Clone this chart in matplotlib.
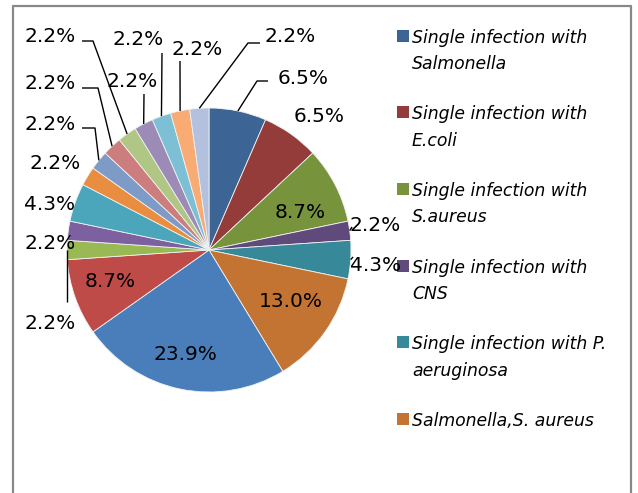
import matplotlib
matplotlib.use("Agg")
import matplotlib.pyplot as plt
from matplotlib.patches import Rectangle
import numpy as np

# ---------------- data ----------------
counts = [3, 3, 4, 1, 2, 6, 11, 4, 1, 1, 2, 1, 1, 1, 1, 1, 1, 1, 1]
slice_colors = ["#3C6494", "#943C3A", "#77933C", "#604A7B", "#378898", "#C47432",
                "#4A7EBB", "#BE4B48", "#98B954", "#7D60A0", "#4BA5BB", "#E98D40",
                "#7E9BC8", "#CB7E7D", "#AFC684", "#9C8AB7", "#7DBFD4", "#F9AB74",
                "#B3C1DE"]
legend_names = ["Single infection with\nSalmonella",
                "Single infection with\nE.coli",
                "Single infection with\nS.aureus",
                "Single infection with\nCNS",
                "Single infection with P.\naeruginosa",
                "Salmonella,S. aureus"]

# ---------------- layout (pixels, top-left origin) ----------------
W, H = 638, 493
CX, CY, R = 209, 250, 142
label_xy = [(303, 77), (319, 115), (300, 211), (375, 224), (376, 264), (291, 300),
            (185, 353), (110, 280), (50, 322), (50, 242), (50, 203), (55, 162),
            (50, 123), (50, 82), (50, 35), (132, 80), (138, 38), (197, 48),
            (290, 35)]
leaders = {0: [(257, 81), (268, 81)],
           3: [(352, 227)],
           4: [(353, 257)],
           8: [(67, 302)],
           12: [(95, 128), (82, 128)],
           13: [(98, 88), (82, 88)],
           14: [(93, 41), (82, 41)],
           15: [(144, 94)],
           16: [(162, 53)],
           17: [(180, 61)],
           18: [(248, 43), (260, 43)]}


def Y(y):
    return H - y


fig = plt.figure(figsize=(W / 100, H / 100), dpi=100)
ax = fig.add_axes([0, 0, 1, 1])
wedges, _ = ax.pie(counts, colors=slice_colors, startangle=90, counterclock=False,
                   center=(CX, Y(CY)), radius=R,
                   wedgeprops=dict(edgecolor="#F2F2F2", linewidth=0.6))
ax.set_xlim(0, W)
ax.set_ylim(0, H)
ax.set_aspect("equal")
ax.axis("off")

total = sum(counts)
for i, (c, w) in enumerate(zip(counts, wedges)):
    txt = f"{c / total * 100:.1f}%"
    lx, ly = label_xy[i]
    ax.text(lx, Y(ly + 7), txt, ha="center", va="baseline", fontsize=14.5,
            color="black", family="DejaVu Sans")
    if i in leaders:
        mid = np.deg2rad((w.theta1 + w.theta2) / 2)
        sx = CX + R * np.cos(mid)
        sy = Y(CY) + R * np.sin(mid)
        xs = [sx] + [p[0] for p in leaders[i]]
        ys = [sy] + [Y(p[1]) for p in leaders[i]]
        ax.plot(xs, ys, color="black", lw=1.0, solid_capstyle="butt")

# legend (manual, handle aligned with first line)
for i, name in enumerate(legend_names):
    base = 42.6 + 76.7 * i
    ax.add_patch(Rectangle((397, Y(base - 1)), 12, 12, facecolor=wedges[i].get_facecolor(),
                           edgecolor="none"))
    for j, line in enumerate(name.split("\n")):
        ax.text(412, Y(base + 26.5 * j), line, ha="left", va="baseline",
                fontsize=12.4, style="italic", color="black", family="DejaVu Sans")

# chart frame (bottom edge cut off)
ax.plot([13, 13, 631, 631], [-5, Y(6), Y(6), -5], color="#898989", lw=1.6,
        clip_on=False)

fig.savefig("out.png", dpi=100)
